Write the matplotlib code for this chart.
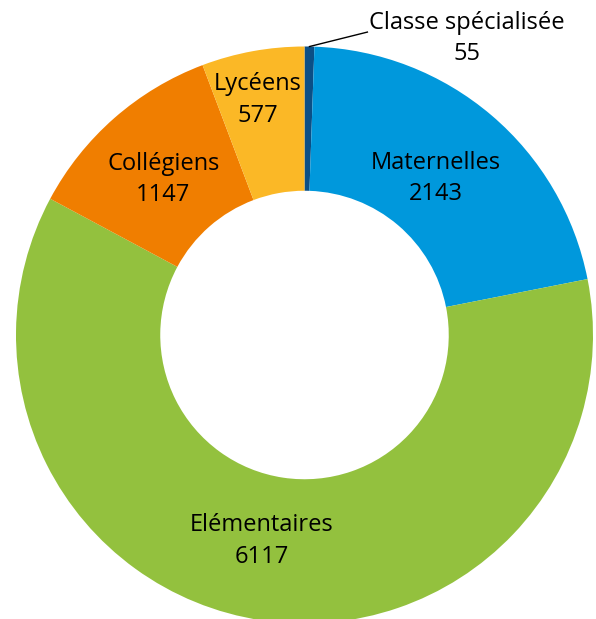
import numpy as np
import matplotlib.pyplot as plt

plt.rcParams['font.family'] = ['Open Sans', 'DejaVu Sans']

# data, clockwise from 12 o'clock
categories = ['Classe spécialisée', 'Maternelles', 'Elémentaires', 'Collégiens', 'Lycéens']
values = [55, 2143, 6117, 1147, 577]
colors = ['#0b4f86', '#0098dc', '#93c13e', '#f07e00', '#fbb826']

W, H = 596, 619
fig = plt.figure(figsize=(W / 100, H / 100), dpi=100)

# donut centre / radius in pixels (measured on the reference)
cx, cy, R = 304.5, 335.0, 288.5
ax = fig.add_axes([(cx - R) / W, (H - cy - R) / H, 2 * R / W, 2 * R / H])

wedges, _ = ax.pie(values, colors=colors, startangle=90, counterclock=False,
                   radius=1.0, wedgeprops=dict(width=0.5, edgecolor='none'))
ax.set_xlim(-1, 1)
ax.set_ylim(-1, 1)
ax.set_aspect('equal')
ax.axis('off')

# label radius / angle nudge per slice (first one sits outside with a leader line)
label_r = [None, 0.715, 0.72, 0.735, 0.84]
label_da = [0, 1.0, -3.5, 0.5, 0.7]
for w, name, val, r, da in zip(wedges, categories, values, label_r, label_da):
    mid = np.deg2rad((w.theta1 + w.theta2) / 2 + da)
    txt = f'{name}\n{val}'
    if r is None:
        x0, y0 = np.cos(mid), np.sin(mid)
        ax.plot([x0, 0.218], [y0, 1.05], color='black', lw=1, clip_on=False)
        ax.text(0.563, 1.028, txt, ha='center', va='center', fontsize=17,
                linespacing=1.4, clip_on=False)
    else:
        ax.text(r * np.cos(mid), r * np.sin(mid) - 0.01, txt, ha='center',
                va='center', fontsize=17, linespacing=1.4)

fig.savefig('out.png', dpi=100)
